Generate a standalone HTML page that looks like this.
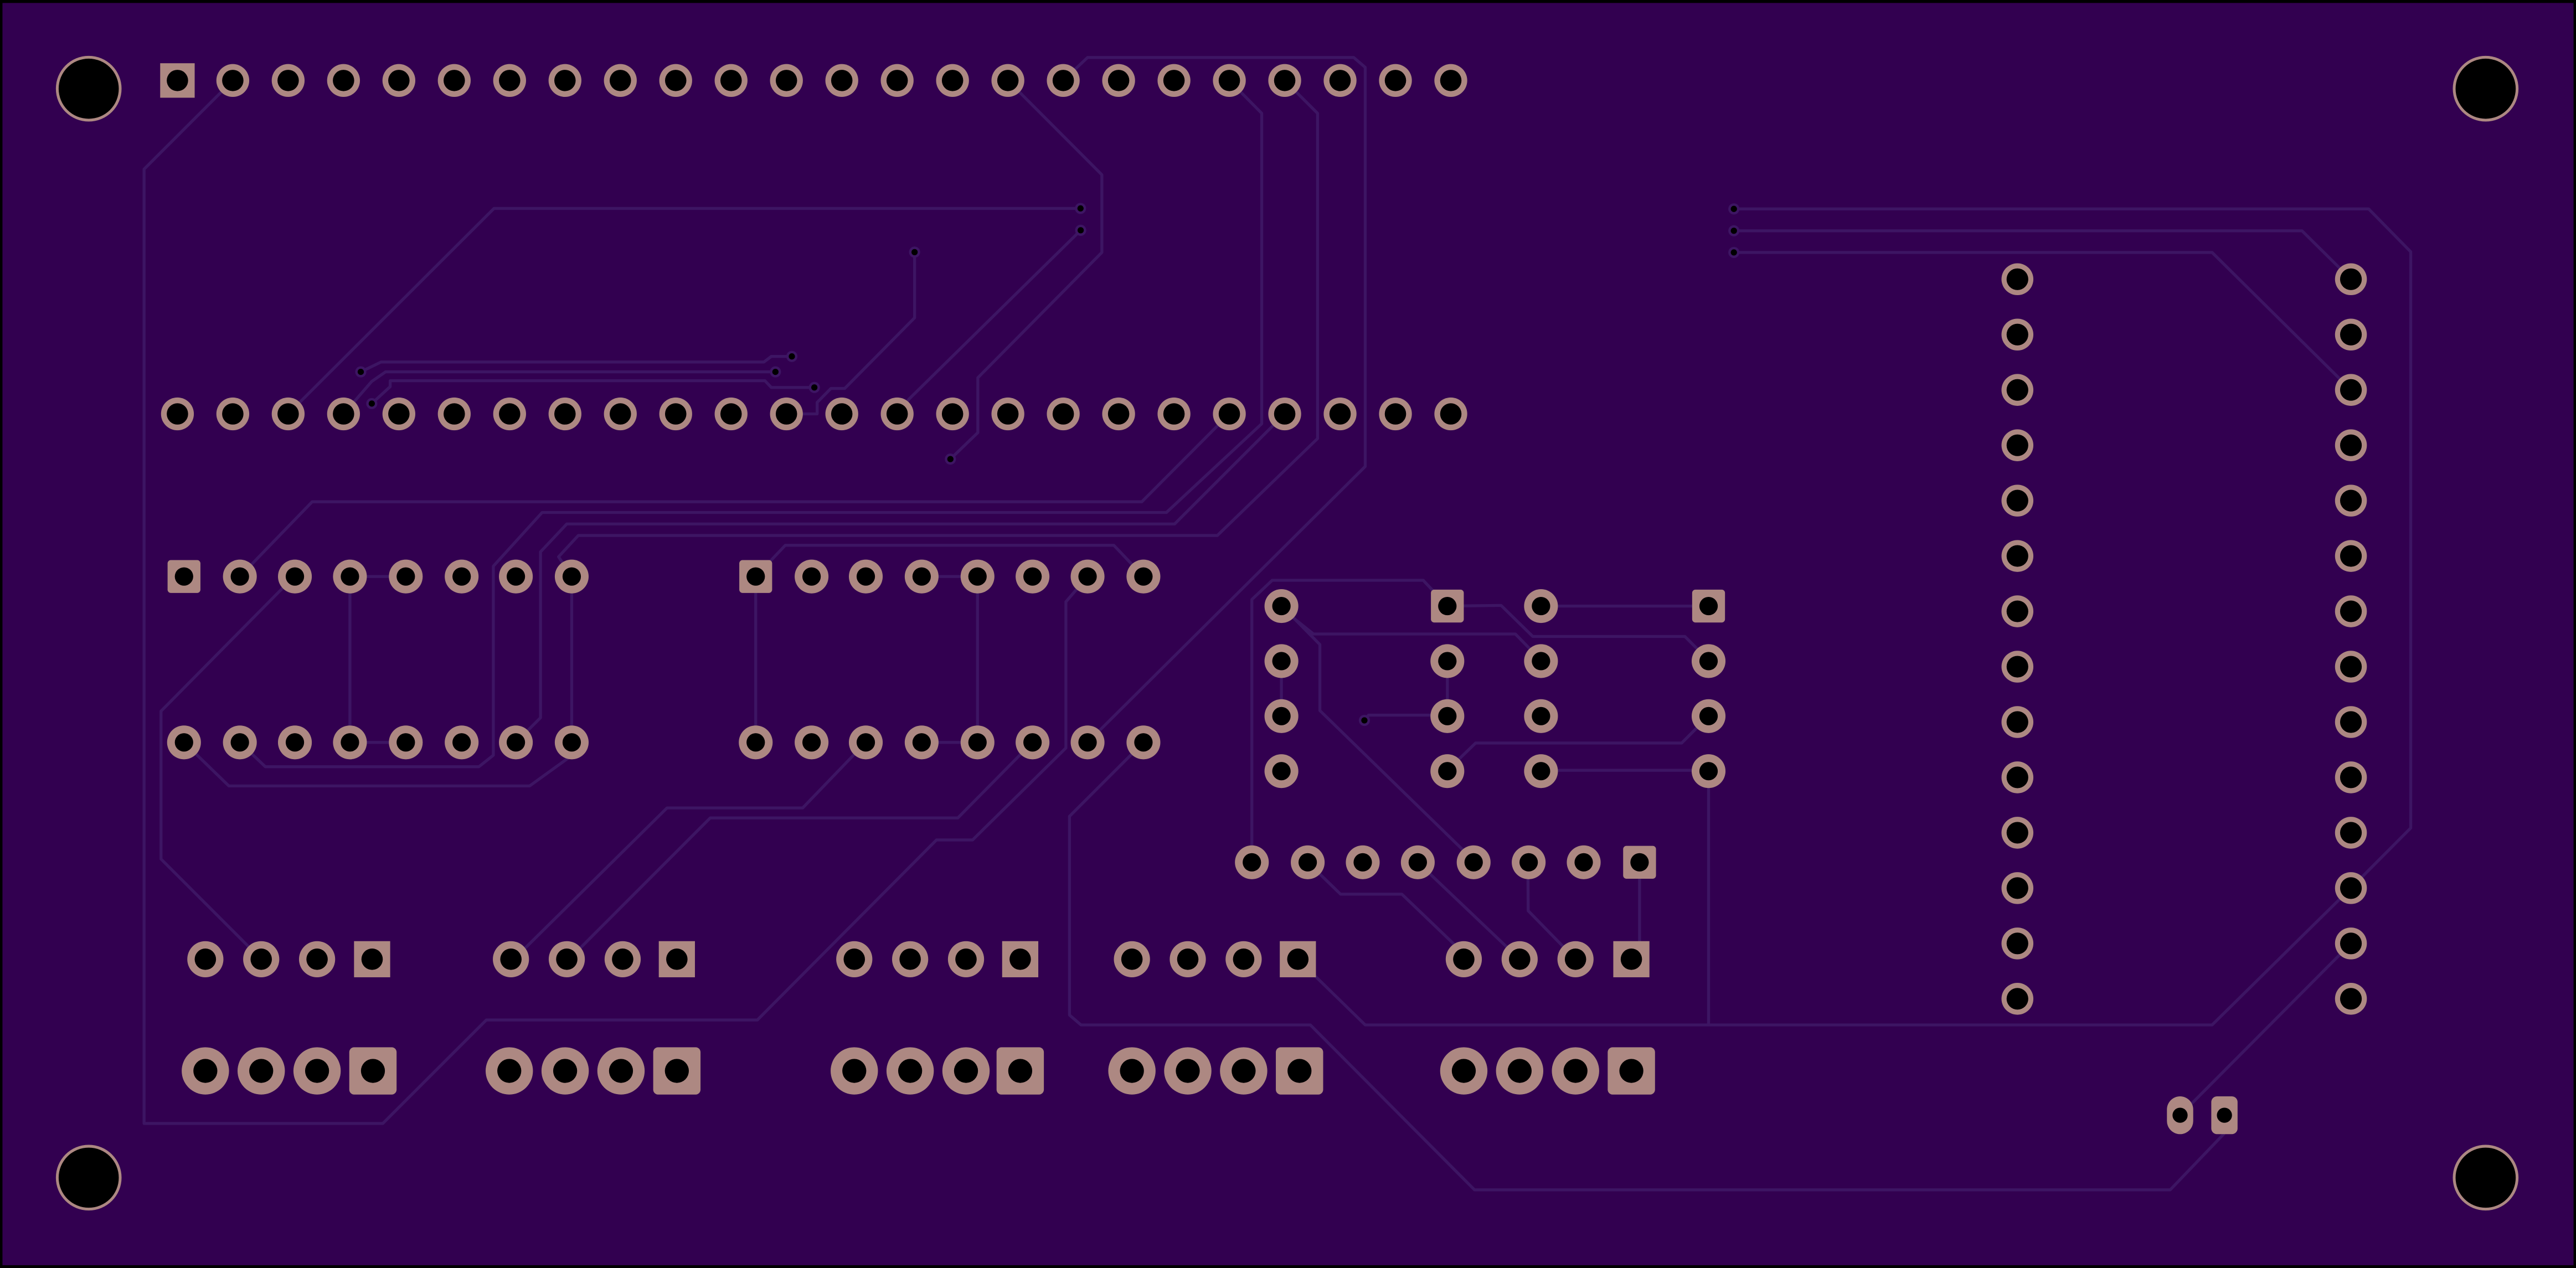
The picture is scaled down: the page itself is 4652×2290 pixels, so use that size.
<!DOCTYPE html>
<html><head><meta charset="utf-8"><style>
html,body{margin:0;padding:0;background:#000;}
svg{display:block;}
</style></head><body>
<svg xmlns="http://www.w3.org/2000/svg" xmlns:xlink="http://www.w3.org/1999/xlink" width="4652" height="2290" viewBox="0 0 1568 772" preserveAspectRatio="none">
<defs>
<g id="hp"><circle r="10" fill="#ad8882"/><circle r="6.5" fill="#000"/></g>
<g id="hs"><rect x="-10.5" y="-10.5" width="21" height="21" fill="#ad8882"/><circle r="6.5" fill="#000"/></g>
<g id="dp"><circle r="10.3" fill="#ad8882"/><circle r="5.6" fill="#000"/></g>
<g id="ds"><rect x="-10" y="-10" width="20" height="20" rx="2" fill="#ad8882"/><circle r="5.6" fill="#000"/></g>
<g id="rp"><circle r="9.7" fill="#ad8882"/><circle r="6.6" fill="#000"/></g>
<g id="sp"><circle r="11" fill="#ad8882"/><circle r="6.5" fill="#000"/></g>
<g id="ss"><rect x="-11" y="-11" width="22" height="22" fill="#ad8882"/><circle r="6.5" fill="#000"/></g>
<g id="bp"><circle r="14.4" fill="#ad8882"/><circle r="7.3" fill="#000"/></g>
<g id="bs"><rect x="-14.4" y="-14.4" width="28.8" height="28.8" rx="3" fill="#ad8882"/><circle r="7.3" fill="#000"/></g>
<g id="mh"><circle r="20" fill="#ad8882"/><circle r="18.3" fill="#000"/></g>
<g id="v"><circle r="3.4" fill="#3d1563"/><circle r="1.9" fill="#000"/></g>
</defs>
<rect x="0" y="0" width="1568" height="772" fill="#000"/>
<rect x="1.5" y="1.8" width="1565" height="768.5" fill="#320050"/>

<g fill="none" stroke="#3d1563" stroke-width="1.8" stroke-linejoin="round">
<!-- left long trace -->
<polyline points="141.7,49 87.7,103 87.7,684 233,684 296,621 461,621 570,511.4 592,511.4 648.8,455.4 648.8,366.4 662,351"/>
<!-- DIP2 pin 628 -> 345,584 -->
<polyline points="628.4,452 583,498 432.3,498 353.4,577 345,584"/>
<polyline points="527,452 488.6,491.9 406,491.9 319.9,577 311,584"/>
<polyline points="460,351 478,332 678,332 696,351"/>
<line x1="460" y1="351" x2="460" y2="452"/>
<line x1="595" y1="351" x2="595" y2="452"/>
<line x1="213" y1="351" x2="213" y2="452"/>
<line x1="561" y1="351" x2="595" y2="351"/>
<line x1="561" y1="452" x2="595" y2="452"/>
<line x1="213" y1="351" x2="247" y2="351"/>
<line x1="213" y1="452" x2="247" y2="452"/>
<!-- T1 -->
<polyline points="146,351 190,305.5 695,305.5 748.3,252"/>
<!-- T2 -->
<polyline points="748.3,49 768,69 768,258 710,312 330,312 300.3,344.7 300.3,459.8 291.5,466.8 161.5,466.8 146,452"/>
<!-- T3 -->
<polyline points="782,252 715,319 345,319 329,336 329,437 314,452"/>
<!-- T4 -->
<polyline points="782,49 802,69 802,267 741,326 352,326 340,339 348,351 348,452 348,460 322.4,478.5 139.3,478.5 112,452"/>
<!-- T5 -->
<polyline points="647.2,49 662,35 824,35 831,41 831,284 662,452"/>
<!-- DIP1 left -->
<polyline points="179,351 98,433 98,523 159,584"/>
<!-- top area -->
<polyline points="613.5,49 670.7,106.4 670.7,153.7 595.2,230 595.2,263.4 578.5,279.5"/>
<polyline points="175.4,252 300.7,126.9 657.7,126.9"/>
<polyline points="546.1,252 553.3,243 657.8,140.2"/>
<polyline points="556.7,153.5 556.7,193.5 514.2,236.5 505.8,236.5 497.4,245 497.4,252 478.7,252"/>
<polyline points="482,217 469.5,217 465,220.4 232,220.4 219.6,226.4"/>
<polyline points="472,226.4 234.7,226.4 226.3,232.2 209.1,252"/>
<polyline points="495.7,235.9 469.5,235.9 465.6,231.8 237.5,231.8 237.5,235.4 226.3,245.7"/>
<!-- right side -->
<polyline points="1055.4,127.2 1441.8,127.2 1467.4,153.3 1467.4,504.1 1431,540.7"/>
<polyline points="1055.4,140.5 1401.2,140.5 1431,170"/>
<polyline points="1055.4,153.7 1346.5,153.7 1431,237.4"/>
<polyline points="790,584 831,624 1346.5,624 1431,540.7"/>
<line x1="1040" y1="469" x2="1040" y2="624"/>
<polyline points="696,452 651,497 651,618 658,624 797.6,624 897.5,724.4 1321,724.4 1354,690"/>
<line x1="1431" y1="574.4" x2="1327" y2="679"/>
<!-- middle cluster -->
<polyline points="881,369 913.7,368.6 933,387.5 1025.6,387.5 1040,402"/>
<line x1="938" y1="369" x2="1040" y2="369"/>
<polyline points="780,369 788,376.8 799.5,386 922.4,386 938,402"/>
<polyline points="788,376.8 803.4,392.4 803.4,432.6 890.5,517.5 897,525"/>
<polyline points="762,525 762,365 774.4,353.3 866.3,353.3 881,369"/>
<line x1="780" y1="402" x2="780" y2="436"/>
<line x1="881" y1="402" x2="881" y2="436"/>
<polyline points="830.5,438.6 833,435.4 881,435.4"/>
<polyline points="881,469 898.2,452.4 1023.6,452.4 1040,436"/>
<line x1="938" y1="469" x2="1040" y2="469"/>
<polyline points="796,525 816,544.4 853.3,544.4 884.7,574.5 891,584"/>
<line x1="863" y1="525" x2="925" y2="584"/>
<polyline points="930,525 930.2,554.5 959,584"/>
<line x1="998" y1="525" x2="998" y2="584"/>
</g>

<!-- mount holes -->
<use href="#mh" x="54" y="54"/><use href="#mh" x="1513" y="54"/>
<use href="#mh" x="54" y="717"/><use href="#mh" x="1513" y="717"/>

<!-- header top row -->
<use href="#hs" x="108" y="49"/>
<use href="#hp" x="141.7" y="49"/><use href="#hp" x="175.4" y="49"/><use href="#hp" x="209.1" y="49"/><use href="#hp" x="242.8" y="49"/><use href="#hp" x="276.5" y="49"/><use href="#hp" x="310.2" y="49"/><use href="#hp" x="343.9" y="49"/><use href="#hp" x="377.6" y="49"/><use href="#hp" x="411.3" y="49"/><use href="#hp" x="445" y="49"/><use href="#hp" x="478.7" y="49"/><use href="#hp" x="512.4" y="49"/><use href="#hp" x="546.1" y="49"/><use href="#hp" x="579.8" y="49"/><use href="#hp" x="613.5" y="49"/><use href="#hp" x="647.2" y="49"/><use href="#hp" x="680.9" y="49"/><use href="#hp" x="714.6" y="49"/><use href="#hp" x="748.3" y="49"/><use href="#hp" x="782" y="49"/><use href="#hp" x="815.7" y="49"/><use href="#hp" x="849.4" y="49"/><use href="#hp" x="883.1" y="49"/>
<!-- header second row -->
<use href="#hp" x="108" y="252"/><use href="#hp" x="141.7" y="252"/><use href="#hp" x="175.4" y="252"/><use href="#hp" x="209.1" y="252"/><use href="#hp" x="242.8" y="252"/><use href="#hp" x="276.5" y="252"/><use href="#hp" x="310.2" y="252"/><use href="#hp" x="343.9" y="252"/><use href="#hp" x="377.6" y="252"/><use href="#hp" x="411.3" y="252"/><use href="#hp" x="445" y="252"/><use href="#hp" x="478.7" y="252"/><use href="#hp" x="512.4" y="252"/><use href="#hp" x="546.1" y="252"/><use href="#hp" x="579.8" y="252"/><use href="#hp" x="613.5" y="252"/><use href="#hp" x="647.2" y="252"/><use href="#hp" x="680.9" y="252"/><use href="#hp" x="714.6" y="252"/><use href="#hp" x="748.3" y="252"/><use href="#hp" x="782" y="252"/><use href="#hp" x="815.7" y="252"/><use href="#hp" x="849.4" y="252"/><use href="#hp" x="883.1" y="252"/>

<!-- DIP1 -->
<use href="#ds" x="112" y="351"/><use href="#dp" x="146" y="351"/><use href="#dp" x="179.5" y="351"/><use href="#dp" x="213" y="351"/><use href="#dp" x="247" y="351"/><use href="#dp" x="281" y="351"/><use href="#dp" x="314" y="351"/><use href="#dp" x="348" y="351"/>
<use href="#dp" x="112" y="452"/><use href="#dp" x="146" y="452"/><use href="#dp" x="179.5" y="452"/><use href="#dp" x="213" y="452"/><use href="#dp" x="247" y="452"/><use href="#dp" x="281" y="452"/><use href="#dp" x="314" y="452"/><use href="#dp" x="348" y="452"/>
<!-- DIP2 -->
<use href="#ds" x="460" y="351"/><use href="#dp" x="494" y="351"/><use href="#dp" x="527" y="351"/><use href="#dp" x="561" y="351"/><use href="#dp" x="595" y="351"/><use href="#dp" x="628.5" y="351"/><use href="#dp" x="662" y="351"/><use href="#dp" x="696" y="351"/>
<use href="#dp" x="460" y="452"/><use href="#dp" x="494" y="452"/><use href="#dp" x="527" y="452"/><use href="#dp" x="561" y="452"/><use href="#dp" x="595" y="452"/><use href="#dp" x="628.5" y="452"/><use href="#dp" x="662" y="452"/><use href="#dp" x="696" y="452"/>

<!-- right columns -->
<use href="#rp" x="1228" y="170"/><use href="#rp" x="1228" y="203.7"/><use href="#rp" x="1228" y="237.4"/><use href="#rp" x="1228" y="271.1"/><use href="#rp" x="1228" y="304.8"/><use href="#rp" x="1228" y="338.5"/><use href="#rp" x="1228" y="372.2"/><use href="#rp" x="1228" y="405.9"/><use href="#rp" x="1228" y="439.6"/><use href="#rp" x="1228" y="473.3"/><use href="#rp" x="1228" y="507"/><use href="#rp" x="1228" y="540.7"/><use href="#rp" x="1228" y="574.4"/><use href="#rp" x="1228" y="608.1"/>
<use href="#rp" x="1431" y="170"/><use href="#rp" x="1431" y="203.7"/><use href="#rp" x="1431" y="237.4"/><use href="#rp" x="1431" y="271.1"/><use href="#rp" x="1431" y="304.8"/><use href="#rp" x="1431" y="338.5"/><use href="#rp" x="1431" y="372.2"/><use href="#rp" x="1431" y="405.9"/><use href="#rp" x="1431" y="439.6"/><use href="#rp" x="1431" y="473.3"/><use href="#rp" x="1431" y="507"/><use href="#rp" x="1431" y="540.7"/><use href="#rp" x="1431" y="574.4"/><use href="#rp" x="1431" y="608.1"/>

<!-- middle cluster -->
<use href="#dp" x="780" y="369"/><use href="#dp" x="780" y="402.5"/><use href="#dp" x="780" y="436"/><use href="#dp" x="780" y="469.5"/>
<use href="#ds" x="881" y="369"/><use href="#dp" x="881" y="402.5"/><use href="#dp" x="881" y="436"/><use href="#dp" x="881" y="469.5"/>
<use href="#dp" x="938" y="369"/><use href="#dp" x="938" y="402.5"/><use href="#dp" x="938" y="436"/><use href="#dp" x="938" y="469.5"/>
<use href="#ds" x="1040" y="369"/><use href="#dp" x="1040" y="402.5"/><use href="#dp" x="1040" y="436"/><use href="#dp" x="1040" y="469.5"/>
<!-- row 525 -->
<use href="#dp" x="762" y="525"/><use href="#dp" x="796" y="525"/><use href="#dp" x="829.5" y="525"/><use href="#dp" x="863" y="525"/><use href="#dp" x="897" y="525"/><use href="#dp" x="930.5" y="525"/><use href="#dp" x="964" y="525"/><use href="#ds" x="998" y="525"/>

<!-- row 584 -->
<use href="#sp" x="125" y="584"/><use href="#sp" x="159" y="584"/><use href="#sp" x="193" y="584"/><use href="#ss" x="226.5" y="584"/>
<use href="#sp" x="311" y="584"/><use href="#sp" x="345" y="584"/><use href="#sp" x="379" y="584"/><use href="#ss" x="412" y="584"/>
<use href="#sp" x="520" y="584"/><use href="#sp" x="554" y="584"/><use href="#sp" x="588" y="584"/><use href="#ss" x="621" y="584"/>
<use href="#sp" x="689" y="584"/><use href="#sp" x="723" y="584"/><use href="#sp" x="757" y="584"/><use href="#ss" x="790" y="584"/>
<use href="#sp" x="891" y="584"/><use href="#sp" x="925" y="584"/><use href="#sp" x="959" y="584"/><use href="#ss" x="993" y="584"/>

<!-- row 652 -->
<use href="#bp" x="125" y="652"/><use href="#bp" x="159" y="652"/><use href="#bp" x="193" y="652"/><use href="#bs" x="227" y="652"/>
<use href="#bp" x="310" y="652"/><use href="#bp" x="344" y="652"/><use href="#bp" x="378" y="652"/><use href="#bs" x="412" y="652"/>
<use href="#bp" x="520" y="652"/><use href="#bp" x="554" y="652"/><use href="#bp" x="588" y="652"/><use href="#bs" x="621" y="652"/>
<use href="#bp" x="689" y="652"/><use href="#bp" x="723" y="652"/><use href="#bp" x="757" y="652"/><use href="#bs" x="791" y="652"/>
<use href="#bp" x="891" y="652"/><use href="#bp" x="925" y="652"/><use href="#bp" x="959" y="652"/><use href="#bs" x="993" y="652"/>

<!-- small oval pads -->
<rect x="1319" y="667.5" width="16" height="23" rx="8" fill="#ad8882"/><circle cx="1327" cy="679" r="4.6" fill="#000"/>
<rect x="1346" y="667.5" width="16" height="23" rx="3.5" fill="#ad8882"/><circle cx="1354" cy="679" r="4.6" fill="#000"/>

<!-- vias -->
<use href="#v" x="657.7" y="126.9"/><use href="#v" x="657.8" y="140.2"/><use href="#v" x="556.7" y="153.5"/><use href="#v" x="482" y="217"/><use href="#v" x="472" y="226.4"/><use href="#v" x="495.7" y="235.9"/><use href="#v" x="219.6" y="226.4"/><use href="#v" x="226.3" y="245.7"/><use href="#v" x="578.5" y="279.5"/>
<use href="#v" x="1055.4" y="127.2"/><use href="#v" x="1055.4" y="140.5"/><use href="#v" x="1055.4" y="153.7"/><use href="#v" x="830.5" y="438.6"/>
</svg>
</body></html>
